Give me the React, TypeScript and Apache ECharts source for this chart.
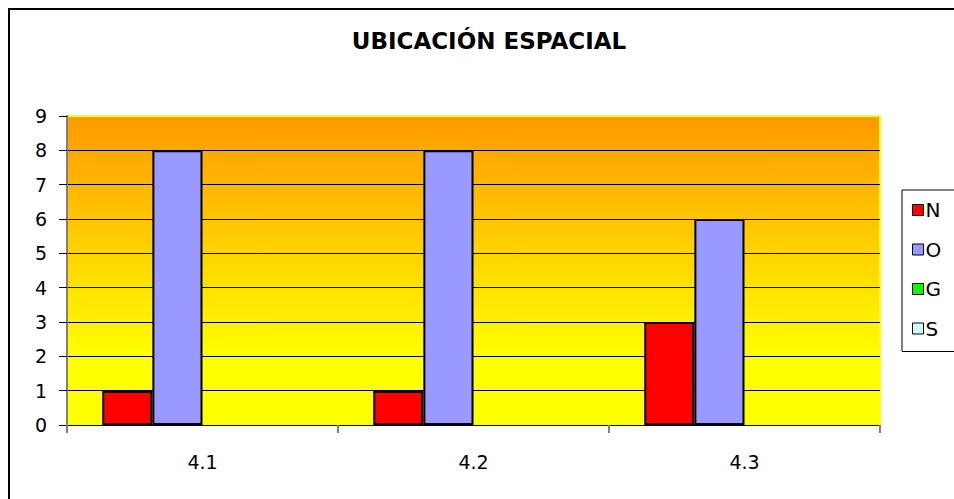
import React, { useEffect, useRef } from "react";
import * as echarts from "echarts";

const categories = ["4.1", "4.2", "4.3"];
const seriesNames = ["N", "O", "G", "S"];
const valuesN = [1, 1, 3];
const valuesO = [8, 8, 6];
const valuesG = [0, 0, 0];
const valuesS = [0, 0, 0];
const yTicks = [0, 1, 2, 3, 4, 5, 6, 7, 8, 9];
const titleText = "UBICACIÓN ESPACIAL";

const colors = ["#FF0000", "#9999FF", "#00FF00", "#CCFFFF"];
const FONT = "'DejaVu Sans', sans-serif";

export default function App() {
  const ref = useRef<HTMLDivElement>(null);
  useEffect(() => {
    if (!ref.current) return;
    const chart = echarts.init(ref.current, undefined, { renderer: "svg" });
    const allValues = [valuesN, valuesO, valuesG, valuesS];
    const option: any = {
      animation: false,
      title: {
        text: titleText,
        left: 481,
        textAlign: "center",
        top: 21,
        padding: 0,
        textStyle: { fontFamily: FONT, fontSize: 23, fontWeight: "bold", color: "#000" },
      },
      legend: {
        orient: "vertical",
        left: 894,
        top: 182,
        padding: [10, 60, 13, 10],
        itemWidth: 11,
        itemHeight: 11,
        itemGap: 19.5,
        borderColor: "#000",
        borderWidth: 1,
        backgroundColor: "#fff",
        textStyle: { fontFamily: FONT, fontSize: 20, color: "#000", padding: [0, 0, 0, -3] },
        data: seriesNames.map((n, i) => ({
          name: n,
          icon: "rect",
          itemStyle: { color: colors[i], borderColor: "#000", borderWidth: 1 },
        })),
      },
      grid: {
        left: 59,
        top: 108,
        width: 813,
        height: 309,
        show: true,
        borderColor: "#FFFF00",
        borderWidth: 2,
        backgroundColor: {
          type: "linear",
          x: 0,
          y: 0,
          x2: 0,
          y2: 1,
          colorStops: [
            { offset: 0, color: "#FF9900" },
            { offset: 0.78, color: "#FFFF00" },
            { offset: 1, color: "#FFFF00" },
          ],
        },
      },
      xAxis: {
        type: "category",
        data: categories,
        axisLine: { show: true, lineStyle: { color: "#000", width: 1 } },
        axisTick: { show: true, length: 8, lineStyle: { color: "#808080", width: 2 } },
        axisLabel: { fontFamily: FONT, fontSize: 19, color: "#000", margin: 27 },
        splitLine: { show: false },
      },
      yAxis: {
        type: "value",
        min: yTicks[0],
        max: yTicks[yTicks.length - 1],
        interval: 1,
        axisLine: { show: true, lineStyle: { color: "#808080", width: 2 } },
        axisTick: { show: true, length: 8, lineStyle: { color: "#000", width: 1 } },
        axisLabel: { fontFamily: FONT, fontSize: 19, color: "#000", margin: 20 },
        splitLine: { show: true, showMaxLine: false, lineStyle: { color: "#000", width: 1 } },
      },
      series: seriesNames.map((n, i) => ({
        name: n,
        type: "bar",
        data: allValues[i],
        barGap: "0%",
        barCategoryGap: "26%",
        itemStyle: {
          color: colors[i],
          borderColor: "#000",
          borderWidth: i < 2 ? 2 : 0,
        },
      })),
      graphic: [
        {
          type: "rect",
          shape: { x: 1, y: 1, width: 2000, height: 2000 },
          style: { fill: "none", stroke: "#000", lineWidth: 2 },
          silent: true,
          z: 100,
        },
      ],
    };
    chart.setOption(option);
    return () => chart.dispose();
  }, []);
  return (
    <div
      ref={ref}
      style={{ position: "fixed", left: 8, top: 8, width: 946, height: 491, background: "#fff" }}
    />
  );
}
